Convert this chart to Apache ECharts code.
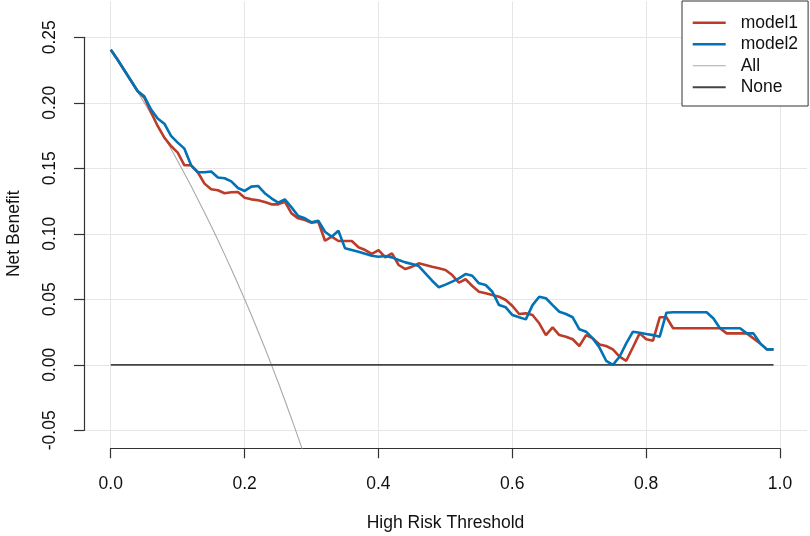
<!DOCTYPE html>
<html><head><meta charset="utf-8">
<script src="https://cdn.jsdelivr.net/npm/echarts@6/dist/echarts.min.js"></script>
<style>html,body{margin:0;padding:0;background:#fff}#c{width:810px;height:536px}</style>
</head><body><div id="c"></div>
<script>
const thresholds = [0.00,0.01,0.02,0.03,0.04,0.05,0.06,0.07,0.08,0.09,
0.10,0.11,0.12,0.13,0.14,0.15,0.16,0.17,0.18,0.19,
0.20,0.21,0.22,0.23,0.24,0.25,0.26,0.27,0.28,0.29,
0.30,0.31,0.32,0.33,0.34,0.35,0.36,0.37,0.38,0.39,
0.40,0.41,0.42,0.43,0.44,0.45,0.46,0.47,0.48,0.49,
0.50,0.51,0.52,0.53,0.54,0.55,0.56,0.57,0.58,0.59,
0.60,0.61,0.62,0.63,0.64,0.65,0.66,0.67,0.68,0.69,
0.70,0.71,0.72,0.73,0.74,0.75,0.76,0.77,0.78,0.79,
0.80,0.81,0.82,0.83,0.84,0.85,0.86,0.87,0.88,0.89,
0.90,0.91,0.92,0.93,0.94,0.95,0.96,0.97,0.98,0.99];

const model1 = [0.2405,0.233,0.225,0.217,0.209,0.204,0.193,0.1823,0.1734,0.167,
0.162,0.1523,0.1523,0.147,0.1383,0.134,0.1332,0.131,0.1317,0.1319,
0.1276,0.1263,0.1256,0.1243,0.1225,0.1225,0.1245,0.1156,0.1118,0.1105,
0.1085,0.1092,0.0947,0.0978,0.0945,0.0945,0.0945,0.0897,0.0876,0.0846,
0.0876,0.0820,0.0851,0.0762,0.0731,0.0749,0.0775,0.0762,0.0749,0.0737,
0.0724,0.0685,0.0627,0.0653,0.0602,0.0558,0.0546,0.0533,0.0520,0.0495,
0.0449,0.0388,0.0393,0.0380,0.0317,0.0227,0.0286,0.0227,0.0215,0.0195,
0.0144,0.0227,0.0202,0.0155,0.0144,0.0118,0.0062,0.0031,0.0134,0.0240,
0.0195,0.0184,0.0363,0.0363,0.0279,0.0279,0.0279,0.0279,0.0279,0.0279,
0.0279,0.0279,0.0240,0.0240,0.0240,0.0240,0.0202,0.0164,0.0118,0.0118];

const model2 = [0.2405,0.233,0.225,0.217,0.209,0.205,0.195,0.188,0.184,0.1747,
0.1696,0.165,0.1523,0.147,0.147,0.1475,0.143,0.1424,0.140,0.135,
0.1327,0.136,0.1365,0.131,0.1271,0.1238,0.1263,0.1202,0.1136,0.1118,
0.1088,0.1100,0.1016,0.0978,0.1024,0.0889,0.0876,0.0863,0.0848,0.0833,
0.0825,0.0831,0.0820,0.0800,0.0782,0.0769,0.0754,0.0698,0.0642,0.0592,
0.0612,0.0635,0.0660,0.0693,0.0680,0.0622,0.0609,0.0558,0.0456,0.0439,
0.0380,0.0363,0.0347,0.0456,0.0520,0.0508,0.0456,0.0405,0.0388,0.0363,
0.0271,0.0253,0.0202,0.0132,0.0031,0.0000,0.0062,0.0164,0.0253,0.0245,
0.0235,0.0227,0.0215,0.0398,0.0401,0.0401,0.0401,0.0401,0.0401,0.0401,
0.0355,0.0279,0.0279,0.0279,0.0279,0.0240,0.0240,0.0164,0.0118,0.0118];

const allThresholds = [0.00,0.01,0.02,0.03,0.04,0.05,0.06,0.07,0.08,0.09,
0.10,0.11,0.12,0.13,0.14,0.15,0.16,0.17,0.18,0.19,
0.20,0.21,0.22,0.23,0.24,0.25,0.26,0.27,0.28,0.29];
const allNB = [0.2405,0.2323,0.2245,0.2165,0.2083,0.2000,0.1915,0.1828,0.1739,0.1648,
0.1556,0.1461,0.1364,0.1264,0.1163,0.1059,0.0952,0.0843,0.0732,0.0617,
0.0500,0.0380,0.0256,0.0130,0.0000,-0.0133,-0.0270,-0.0411,-0.0556,-0.0704];

const noneThresholds = [0.00, 0.99];
const noneNB = [0, 0];

const xTickLabels = ['0.0','0.2','0.4','0.6','0.8','1.0'];
const yTickLabels = ['-0.05','0.00','0.05','0.10','0.15','0.20','0.25'];

const zip = (xs, ys) => xs.map((x, i) => [x, ys[i]]);

const FONT = 'Liberation Sans, Arial, Helvetica, sans-serif';
const AX = '#333';
const GRIDC = '#e6e6e6';
const FS = 17.5;
const C1 = '#BC3C29', C2 = '#0072B5', CALL = '#a9a9a9', CNONE = '#444';

const chart = echarts.init(document.getElementById('c'), null, {renderer: 'canvas'});
chart.setOption({
  animation: false,
  backgroundColor: '#fff',
  textStyle: {fontFamily: FONT},
  grid: [
    {left: 84, right: 3, top: 1.5, bottom: 87.7, containLabel: false, outerBoundsMode: 'none'},
    {left: 110.7, right: 30, top: 1.5, bottom: 87.7, containLabel: false, outerBoundsMode: 'none'},
    {left: 84, right: 3, top: 37.3, bottom: 105.7, containLabel: false, outerBoundsMode: 'none'}
  ],
  xAxis: [
    {gridIndex: 0, type: 'value', min: -0.04, max: 1.04,
     axisLine: {show: false}, axisTick: {show: false}, axisLabel: {show: false}, splitLine: {show: false},
     name: 'High Risk Threshold', nameLocation: 'middle', nameGap: 66,
     nameTextStyle: {fontFamily: FONT, fontSize: FS, color: '#111'}},
    {gridIndex: 1, type: 'value', min: 0, max: 1, interval: 0.2,
     axisLine: {show: true, lineStyle: {color: AX, width: 1.2}},
     axisTick: {show: true, length: 10, lineStyle: {color: AX, width: 1.2}},
     axisLabel: {margin: 27, fontFamily: FONT, fontSize: FS, color: '#111',
       formatter: (v) => xTickLabels[Math.round(v / 0.2)]},
     splitLine: {show: true, lineStyle: {color: GRIDC, width: 1}}},
    {gridIndex: 2, type: 'value', min: 0, max: 1, show: false}
  ],
  yAxis: [
    {gridIndex: 0, type: 'value', min: -0.0637, max: 0.2773,
     axisLine: {show: false}, axisTick: {show: false}, axisLabel: {show: false}, splitLine: {show: false}},
    {gridIndex: 1, type: 'value', min: 0, max: 1, show: false},
    {gridIndex: 2, type: 'value', min: -0.05, max: 0.25, interval: 0.05,
     name: 'Net Benefit', nameLocation: 'middle', nameGap: 61,
     nameTextStyle: {fontFamily: FONT, fontSize: FS, color: '#111'},
     axisLine: {show: true, lineStyle: {color: AX, width: 1.2}},
     axisTick: {show: true, length: 10, lineStyle: {color: AX, width: 1.2}},
     axisLabel: {margin: 25, rotate: 90, fontFamily: FONT, fontSize: FS, color: '#111',
       formatter: (v) => yTickLabels[Math.round((v + 0.05) / 0.05)]},
     splitLine: {show: true, lineStyle: {color: GRIDC, width: 1}}}
  ],
  legend: {
    orient: 'vertical', left: 682, top: 1,
    padding: [11, 10, 8, 10.7], itemGap: 0,
    itemWidth: 33, itemHeight: 14, symbolKeepAspect: true,
    backgroundColor: '#fff', borderColor: '#333', borderWidth: 1, borderRadius: 0,
    itemStyle: {borderWidth: 0},
    textStyle: {fontFamily: FONT, fontSize: FS, color: '#111', lineHeight: 21.5, padding: [0, 0, 0, 10]},
    data: [
      {name: 'model1', icon: 'path://M0 0H33V2.6H0Z', itemStyle: {color: C1}},
      {name: 'model2', icon: 'path://M0 0H33V2.6H0Z', itemStyle: {color: C2}},
      {name: 'All', icon: 'path://M0 0H33V1.1H0Z', itemStyle: {color: CALL}},
      {name: 'None', icon: 'path://M0 0H33V1.8H0Z', itemStyle: {color: CNONE}}
    ]
  },
  series: [
    {name: 'All', type: 'line', xAxisIndex: 0, yAxisIndex: 0, symbol: 'none', z: 3,
     lineStyle: {color: CALL, width: 1.1}, itemStyle: {color: CALL},
     data: zip(allThresholds, allNB)},
    {name: 'None', type: 'line', xAxisIndex: 0, yAxisIndex: 0, symbol: 'none', z: 3,
     lineStyle: {color: CNONE, width: 1.8}, itemStyle: {color: CNONE},
     data: zip(noneThresholds, noneNB)},
    {name: 'model1', type: 'line', xAxisIndex: 0, yAxisIndex: 0, symbol: 'none', z: 4,
     lineStyle: {color: C1, width: 2.6}, itemStyle: {color: C1},
     data: zip(thresholds, model1)},
    {name: 'model2', type: 'line', xAxisIndex: 0, yAxisIndex: 0, symbol: 'none', z: 5,
     lineStyle: {color: C2, width: 2.6}, itemStyle: {color: C2},
     data: zip(thresholds, model2)}
  ]
});
</script>
</body></html>
